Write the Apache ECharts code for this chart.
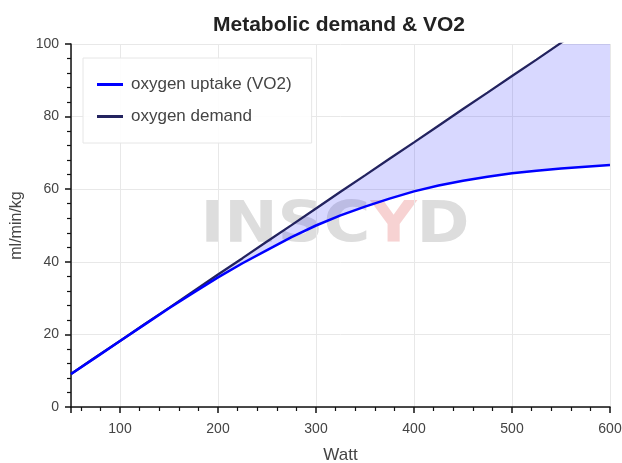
<!DOCTYPE html>
<html>
<head>
<meta charset="utf-8">
<script src="https://cdn.jsdelivr.net/npm/echarts@6/dist/echarts.min.js"></script>
<style>html,body{margin:0;padding:0;background:#fff}#c{width:622px;height:463px}</style>
</head>
<body>
<div id="c"></div>
<script>
const watts = [50,75,100,125,150,175,200,225,250,275,300,325,350,375,400,425,450,475,500,525,550,575,600];
const vo2 = [9.1,13.6,18.2,22.7,27.2,31.5,35.7,39.6,43.2,46.8,50.0,52.8,55.2,57.4,59.4,61.0,62.3,63.4,64.4,65.1,65.7,66.2,66.7];
const demand = [9.1,13.7,18.2,22.8,27.3,31.9,36.5,41.0,45.6,50.1,54.7,59.3,63.8,68.4,72.9,77.5,82.1,86.6,91.2,95.7,100.3,104.9,109.4];
const seriesNames = ['oxygen uptake (VO2)', 'oxygen demand'];
const titleText = 'Metabolic demand & VO2';
const xName = 'Watt';
const yName = 'ml/min/kg';

const pair = (arr) => watts.map((w, i) => [w, arr[i]]);

const font = 'Liberation Sans, Arial, Helvetica, sans-serif';
const chart = echarts.init(document.getElementById('c'), null, {renderer: 'canvas'});
chart.setOption({
  animation: false,
  backgroundColor: '#fff',
  title: {
    text: titleText, left: 208, top: 10,
    textStyle: {fontFamily: font, fontSize: 21, fontWeight: 'bold', color: '#222'}
  },
  graphic: [{
    type: 'text', x: 335, y: 227, scaleX: 1.12, z: 0, silent: true,
    style: {
      text: '{g|INSC}{r|Y}{g|D}',
      align: 'center', verticalAlign: 'middle',
      rich: {
        g: {fontFamily: 'DejaVu Sans', fontWeight: 'bold', fontSize: 57, fill: '#dddddd'},
        r: {fontFamily: 'DejaVu Sans', fontWeight: 'bold', fontSize: 57, fill: '#f7d2d2'}
      }
    }
  }],
  legend: {
    orient: 'vertical', left: 83, top: 58,
    padding: [18, 20, 18, 14],
    itemGap: 15, itemWidth: 26, itemHeight: 3,
    backgroundColor: 'rgba(255,255,255,0.9)', borderColor: '#e6e6e6', borderWidth: 1,
    data: [{name: seriesNames[0], icon: 'rect'}, {name: seriesNames[1], icon: 'rect'}],
    textStyle: {fontFamily: font, fontSize: 17, color: '#444', padding: [0,0,0,3]}
  },
  grid: {left: 71, right: 12, top: 44, bottom: 56, containLabel: false, outerBoundsMode: 'none'},
  xAxis: {
    type: 'value', min: 50, max: 600,
    name: xName, nameLocation: 'middle', nameGap: 40,
    nameTextStyle: {fontFamily: font, fontSize: 17, color: '#444'},
    axisLine: {show: true, lineStyle: {color: '#111', width: 1.5}},
    axisTick: {show: true, length: 6, lineStyle: {color: '#111', width: 1.5}},
    minorTick: {show: true, splitNumber: 5, length: 4, lineStyle: {color: '#111', width: 1.2}},
    axisLabel: {fontFamily: font, fontSize: 14, color: '#444', margin: 15, showMinLabel: false},
    splitLine: {show: true, lineStyle: {color: '#e8e8e8', width: 1}}
  },
  yAxis: {
    type: 'value', min: 0, max: 100, interval: 20,
    name: yName, nameLocation: 'middle', nameGap: 42,
    nameTextStyle: {fontFamily: font, fontSize: 16, color: '#444'},
    axisLine: {show: true, lineStyle: {color: '#111', width: 1.5}},
    axisTick: {show: true, length: 6, lineStyle: {color: '#111', width: 1.5}},
    minorTick: {show: true, splitNumber: 5, length: 4, lineStyle: {color: '#111', width: 1.2}},
    axisLabel: {fontFamily: font, fontSize: 14, color: '#444', margin: 12},
    splitLine: {show: true, lineStyle: {color: '#e8e8e8', width: 1}}
  },
  series: [
    {
      name: 'band', type: 'custom', clip: true, silent: true, z: 1,
      data: [[watts[0], vo2[0]]],
      encode: {x: 0, y: 1},
      renderItem: function (params, api) {
        const pts = [];
        for (let i = 0; i < watts.length; i++) pts.push(api.coord([watts[i], demand[i]]));
        for (let i = watts.length - 1; i >= 0; i--) pts.push(api.coord([watts[i], vo2[i]]));
        return {type: 'polygon', shape: {points: pts}, style: {fill: 'rgba(60,60,255,0.2)'}};
      }
    },
    {name: seriesNames[1], type: 'line', data: pair(demand), showSymbol: false, symbol: 'none',
     color: '#23235f', lineStyle: {color: '#23235f', width: 2.3}, z: 3},
    {name: seriesNames[0], type: 'line', data: pair(vo2), showSymbol: false, symbol: 'none',
     color: '#0000ff', lineStyle: {color: '#0000ff', width: 2.5}, z: 4}
  ]
});
</script>
</body>
</html>
